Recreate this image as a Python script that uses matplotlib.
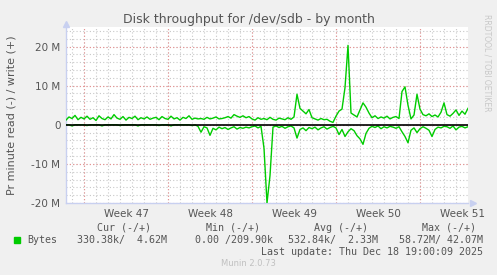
import matplotlib
matplotlib.use("Agg")
import matplotlib.pyplot as plt
import numpy as np

# values in M, one every 6 hours (135 points, day 0 .. 33.5)
write_mb = [1.2, 2.0, 1.6, 2.4, 1.3, 1.9, 1.5, 2.2, 1.4, 1.8, 1.1, 2.3, 1.6, 1.3, 2.0,
            1.5, 2.6, 1.7, 1.4, 2.1, 1.2, 1.9, 1.6, 2.2, 1.3, 1.8, 1.5, 2.0, 1.4, 1.7,
            1.9, 1.3, 2.1, 1.6, 1.4, 2.2, 1.5, 1.8, 1.2, 1.9, 1.6, 2.3, 1.4, 1.7, 1.5,
            1.6, 1.4, 1.9, 1.5, 1.7, 2.0, 1.5, 1.6, 1.8, 2.1, 1.7, 2.6, 2.2, 1.9, 2.3,
            1.8, 2.1,
            1.5, 1.2, 1.8, 1.4, 1.6, 1.3, 1.9, 1.4, 1.2, 1.7, 1.5, 1.3, 1.8, 1.4, 2.0,
            7.8, 4.2, 3.5, 2.8, 3.9,
            1.8, 1.5, 1.2, 1.6, 1.3, 1.4, 0.9, 0.6,
            2.2, 3.5, 4.0, 9.5, 20.3, 3.0,
            2.5, 2.0, 3.8, 5.6, 4.5, 3.0,
            1.8, 2.3, 1.6, 2.0, 1.7, 2.2, 1.5, 1.9, 2.1, 1.6, 8.5, 9.7, 5.0,
            1.5, 2.5, 7.8, 4.0, 2.6,
            2.3, 2.8, 2.1, 2.5, 2.0, 3.2, 5.6,
            2.6, 2.2, 2.9, 3.8, 2.4, 3.5, 2.7, 4.2]

read_mb = [0, 0, -0.3, 0, 0, 0, 0, -0.2, 0, 0, 0, 0, -0.3, 0, 0,
           0, 0, 0, -0.2, 0, 0, 0, 0, 0, -0.3, 0, 0, 0, 0, 0,
           0, -0.2, 0, 0, 0, -0.3, 0, 0, 0, 0, 0, 0, -0.2, 0, -0.4,
           -1.9, -0.5, -0.8, -2.7, -0.9, -1.3, -0.6, -1.0, -0.7, -1.2, -0.8, -0.5, -1.1, -0.7, -0.9,
           -0.6, -0.8,
           -0.5, -0.3, -0.8, -0.4, -6.0, -20.0, -13.0,
           -0.6, -0.3, -0.7, -0.4, -0.9, -0.5, -0.3, -0.8,
           -3.4, -1.2, -0.8, -1.5, -0.7,
           -1.0, -0.6, -1.3, -0.8, -0.5, -1.1, -0.7, -0.4,
           -0.8, -2.5, -1.2, -3.0, -1.8, -1.0,
           -1.5, -2.8, -3.6, -5.0, -2.2, -0.9,
           -0.4, -0.7, -0.3, -1.0, -0.5, -0.8, -0.4, -0.6, -0.9, -0.5, -1.8, -3.0, -4.6,
           -1.4, -0.8, -2.0, -1.0, -0.5,
           -0.9, -1.4, -3.0, -1.2, -0.6, -0.8, -0.4,
           -0.5, -0.9, -0.3, -1.3, -0.6, -0.4, -0.8, -0.5]

days = np.arange(len(write_mb)) * 0.25
week_lines = [1.5, 8.5, 15.5, 22.5, 29.5]
week_labels = ["Week 47", "Week 48", "Week 49", "Week 50", "Week 51"]
yticks = [-20, -10, 0, 10, 20]
ylabels = ["-20 M", "-10 M", "0", "10 M", "20 M"]

legend_head = ["Cur (-/+)", "Min (-/+)", "Avg (-/+)", "Max (-/+)"]
legend_vals = ["330.38k/  4.62M", "0.00 /209.90k", "532.84k/  2.33M", "58.72M/ 42.07M"]

bg = "#F0F0F0"
txt = "#555555"
green = "#00CC00"
fig = plt.figure(figsize=(4.97, 2.75), dpi=100, facecolor=bg)
ax = fig.add_axes([66/497, 72/275, 402/497, 176/275])
ax.set_facecolor("white")
ax.set_xlim(0, 33.5)
ax.set_ylim(-20, 25)

# grid
for d in np.arange(0.5, 33.5, 1.0):
    ax.axvline(d, color="#C8C8C8", lw=0.8, ls=(0, (1, 2)), zorder=1)
for v in np.arange(-18, 25, 2):
    ax.axhline(v, color="#C8C8C8", lw=0.8, ls=(0, (1, 2)), zorder=1)
for d in week_lines:
    ax.axvline(d, color="#E89090", lw=0.8, ls=(0, (1, 2)), zorder=2)
for v in yticks:
    ax.axhline(v, color="#E89090", lw=0.8, ls=(0, (1, 2)), zorder=2)

ax.plot(days, write_mb, color=green, lw=1.0, zorder=3)
ax.plot(days, read_mb, color=green, lw=1.0, zorder=3)
ax.axhline(0, color="black", lw=1.2, zorder=4)

for s in ["top", "right"]:
    ax.spines[s].set_visible(False)
for s in ["left", "bottom"]:
    ax.spines[s].set_color("#C8D0F0")
    ax.spines[s].set_linewidth(1.0)
ax.plot([0], [25.8], marker="^", color="#C8D0F0", ms=5, clip_on=False, zorder=5)
ax.plot([33.9], [-20], marker=">", color="#C8D0F0", ms=5, clip_on=False, zorder=5)

ax.set_yticks(yticks)
ax.set_yticklabels(ylabels)
ax.set_xticks([w + 3.5 for w in week_lines])
ax.set_xticklabels(week_labels)
ax.tick_params(axis="both", length=0, labelsize=7.5, colors=txt, pad=4)
ax.set_ylabel("Pr minute read (-) / write (+)", fontsize=8, color=txt, labelpad=11)

fig.text(0.5, 1 - 19/275, "Disk throughput for /dev/sdb - by month", ha="center",
         va="center", fontsize=9, color=txt)
fig.text(487/497, 1 - 14/275, "RRDTOOL / TOBI OETIKER", rotation=270, ha="center",
         va="top", fontsize=5.5, color="#C8C8C8")

mono = "DejaVu Sans Mono"
head_x = [151, 260, 368, 476]
for h, x in zip(legend_head, head_x):
    fig.text(x/497, 1 - 228/275, h, ha="right", va="center", family=mono, fontsize=7.2, color=txt)
val_x = [167, 273, 378, 483]
for v, x in zip(legend_vals, val_x):
    fig.text(x/497, 1 - 240/275, v, ha="right", va="center", family=mono, fontsize=7.2, color=txt)
fig.patches.append(plt.Rectangle((14/497, 1 - 243/275), 6/497, 6/275, color=green,
                                 transform=fig.transFigure, figure=fig))
fig.text(27/497, 1 - 240/275, "Bytes", ha="left", va="center", family=mono, fontsize=7.2, color=txt)
fig.text(483/497, 1 - 252/275, "Last update: Thu Dec 18 19:00:09 2025", ha="right",
         va="center", family=mono, fontsize=7.2, color=txt)
fig.text(248/497, 1 - 263/275, "Munin 2.0.73", ha="center", va="center", fontsize=6,
         color="#C0C0C0")

fig.savefig("out.png", dpi=100, facecolor=bg)
